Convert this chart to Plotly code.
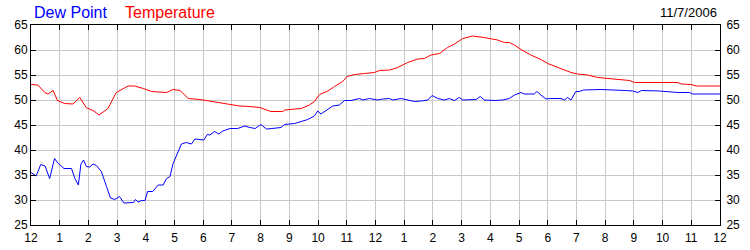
import plotly.graph_objects as go

# hours since midnight (12 AM) on 11/7/2006
temp_hours = [0.00, 0.24, 0.48, 0.59, 0.77, 0.92, 1.17, 1.46, 1.70, 1.92, 2.16, 2.37, 2.68, 2.97,
              3.38, 3.61, 3.91, 4.20, 4.72, 4.95, 5.19, 5.48, 5.88, 6.35, 6.93, 7.27, 7.62, 7.97,
              8.35, 8.77, 8.84, 9.41, 9.70, 9.87, 10.05, 10.34, 10.57, 10.86, 11.00, 11.27, 11.62,
              11.96, 12.14, 12.50, 12.77, 13.12, 13.47, 13.70, 13.93, 14.23, 14.51, 14.75, 15.04,
              15.38, 15.79, 15.97, 16.25, 16.49, 16.66, 16.84, 17.07, 17.41, 17.76, 18.00, 18.28,
              18.52, 18.81, 19.04, 19.39, 19.74, 20.08, 20.43, 20.85, 21.02, 22.53, 22.65, 23.00,
              23.17, 24.00]
temperature = [53.1, 53.0, 51.5, 51.2, 51.9, 49.9, 49.3, 49.2, 50.5, 48.5, 47.9, 47.0, 48.3, 51.5,
               52.8, 52.8, 52.3, 51.7, 51.5, 52.1, 51.9, 50.3, 50.1, 49.7, 49.1, 48.8, 48.7, 48.5,
               47.7, 47.7, 48.0, 48.3, 49.0, 49.7, 51.1, 51.8, 52.7, 53.7, 54.7, 55.1, 55.3,
               55.5, 55.9, 56.0, 56.5, 57.5, 58.2, 58.3, 59.0, 59.3, 60.5, 61.2, 62.3,
               62.8, 62.5, 62.3, 62.0, 61.5, 61.5, 61.0, 60.1, 59.0, 58.1, 57.3, 56.7,
               56.1, 55.5, 55.2, 55.0, 54.5, 54.3, 54.0, 53.9, 53.5, 53.5, 53.2, 53.1,
               52.8, 52.8]

dew_hours = [0.00, 0.18, 0.34, 0.49, 0.65, 0.82, 0.95, 1.15, 1.41, 1.53, 1.65, 1.74, 1.83, 1.93,
             2.05, 2.16, 2.28, 2.45, 2.63, 2.77, 2.92, 3.08, 3.24, 3.57, 3.64, 3.73, 3.85, 3.97,
             4.06, 4.24, 4.43, 4.60, 4.72, 4.84, 4.95, 5.13, 5.24, 5.41, 5.59, 5.71, 6.02, 6.14,
             6.23, 6.39, 6.54, 6.68, 6.93, 7.20, 7.44, 7.62, 7.81, 8.01, 8.20, 8.39, 8.71, 8.83,
             9.18, 9.41, 9.64, 9.87, 9.99, 10.10, 10.51, 10.74, 10.92, 11.15, 11.44, 11.56, 11.79,
             12.08, 12.25, 12.49, 12.60, 12.89, 13.12, 13.36, 13.59, 13.82, 13.97, 14.17, 14.40,
             14.57, 14.75, 14.92, 15.04, 15.33, 15.50, 15.65, 15.79, 16.14, 16.43, 16.66, 16.84,
             17.07, 17.18, 17.53, 17.62, 17.76, 17.94, 18.11, 18.46, 18.58, 18.69, 18.81, 18.98,
             19.10, 19.25, 19.85, 20.32, 20.43, 20.71, 20.96, 21.14, 21.26, 21.89, 22.53, 22.94,
             23.05, 24.00]
dew_point = [35.5, 34.8, 37.1, 36.8, 34.3, 38.3, 37.3, 36.3, 36.3, 34.3, 33.0, 37.2, 38.0, 36.7,
             36.6, 37.2, 36.9, 35.7, 32.7, 30.4, 30.1, 30.7, 29.4, 29.5, 30.1, 29.6, 29.9, 29.9,
             31.7, 31.7, 33.0, 33.0, 34.3, 34.7, 37.3, 39.5, 41.2, 41.5, 41.2, 42.2, 42.0, 43.1,
             43.0, 43.7, 43.2, 43.8, 44.3, 44.3, 44.8, 44.5, 44.3, 45.1, 44.2, 44.3, 44.5, 45.1,
             45.3, 45.7, 46.1, 46.8, 47.8, 47.2, 48.8, 49.0, 49.9, 49.9, 50.3, 50.0, 50.3,
             50.0, 50.2, 50.3, 50.0, 50.3, 50.0, 49.7, 49.8, 50.0, 50.9, 50.3, 50.0,
             50.3, 49.9, 50.5, 50.0, 50.1, 50.1, 50.7, 50.0, 49.9, 50.0, 50.3, 51.0,
             51.5, 51.2, 51.2, 51.7, 51.0, 50.2, 50.3, 50.3, 50.0, 50.5, 50.0, 51.7,
             51.7, 52.0, 52.1, 52.0, 52.1, 51.9, 51.8, 51.5, 51.9, 51.8, 51.5, 51.5,
             51.2, 51.2]

x_tickvals = list(range(0, 25))
x_ticktext = ["12"] + [str(i) for i in range(1, 12)] + ["12"] + [str(i) for i in range(1, 12)] + ["12"]
y_tickvals = [25, 30, 35, 40, 45, 50, 55, 60, 65]

FONT = "Liberation Sans, Arial, sans-serif"
GRID = "#c8c8c8"

fig = go.Figure()
fig.add_trace(go.Scatter(x=temp_hours, y=temperature, mode="lines",
                         line=dict(color="#ff0000", width=1), name="Temperature", yaxis="y2"))
fig.add_trace(go.Scatter(x=dew_hours, y=dew_point, mode="lines",
                         line=dict(color="#0000ff", width=1), name="Dew Point", yaxis="y"))

axis_common = dict(showline=True, linecolor="black", linewidth=1, ticks="inside",
                   ticklen=5, tickcolor="black", tickwidth=1, automargin=False,
                   tickfont=dict(family=FONT, size=12, color="black"), zeroline=False)

fig.update_layout(
    width=750, height=250,
    margin=dict(l=31, r=30, t=25, b=25),
    paper_bgcolor="white", plot_bgcolor="white",
    showlegend=False,
    xaxis=dict(range=[0, 24], tickvals=x_tickvals, ticktext=x_ticktext, mirror="ticks",
               showgrid=True, gridcolor=GRID, gridwidth=1, ticklabelstandoff=2, **axis_common),
    yaxis=dict(range=[25, 65], tickvals=y_tickvals, mirror=True,
               showgrid=True, gridcolor=GRID, gridwidth=1, **axis_common),
    yaxis2=dict(range=[25, 65], tickvals=y_tickvals, overlaying="y", side="right",
                showgrid=False, ticklabelstandoff=3, **axis_common),
    annotations=[
        dict(text="Dew Point", x=0.002, y=1.065, xref="paper", yref="paper",
             xanchor="left", yanchor="middle", showarrow=False,
             font=dict(family=FONT, size=16, color="#0000ff")),
        dict(text="Temperature", x=0.134, y=1.065, xref="paper", yref="paper",
             xanchor="left", yanchor="middle", showarrow=False,
             font=dict(family=FONT, size=16, color="#ff0000")),
        dict(text="11/7/2006", x=0.998, y=1.065, xref="paper", yref="paper",
             xanchor="right", yanchor="middle", showarrow=False,
             font=dict(family=FONT, size=13, color="black")),
    ],
)

fig.write_html("out.html")
